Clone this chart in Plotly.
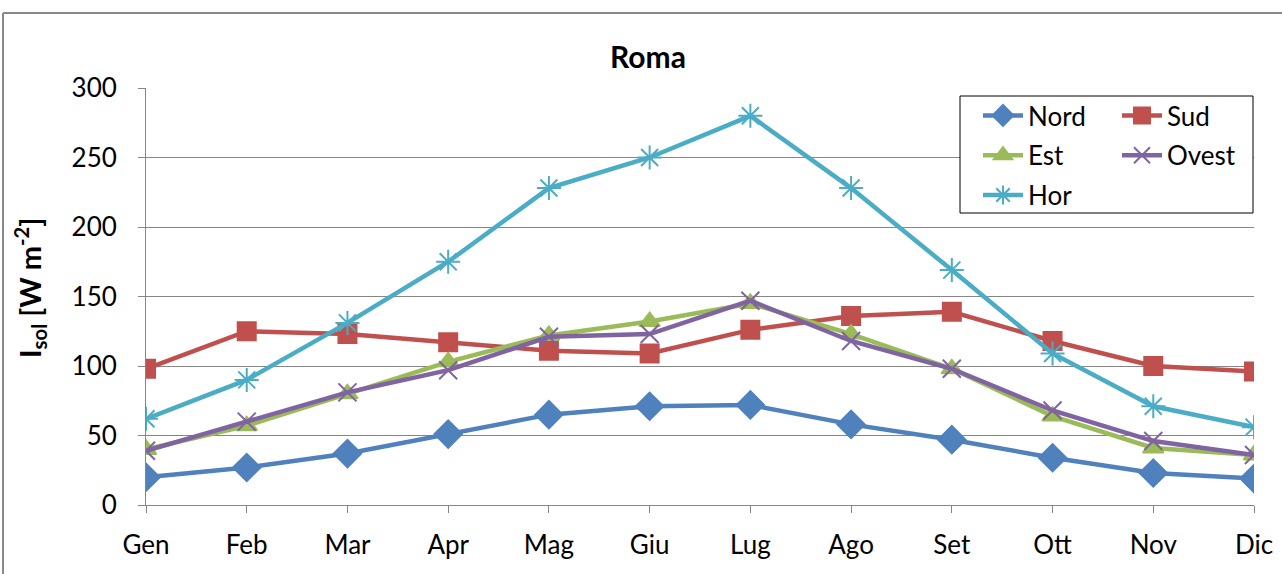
import plotly.graph_objects as go

months = ["Gen", "Feb", "Mar", "Apr", "Mag", "Giu", "Lug", "Ago", "Set", "Ott", "Nov", "Dic"]
nord = [20, 27, 37, 51, 65, 71, 72, 58, 47, 34, 23, 19]
sud = [98, 125, 123, 117, 111, 109, 126, 136, 139, 118, 100, 96]
est = [40, 57, 80, 103, 122, 132, 145, 123, 98, 64, 41, 36]
ovest = [39, 60, 81, 97, 121, 123, 147, 118, 98, 68, 46, 36]
hor = [62, 90, 131, 175, 228, 250, 280, 228, 169, 109, 71, 56]

FONT = "Lato"

series = [
    ("Nord", nord, "#4F81BD", "diamond", 21, "legend"),
    ("Sud", sud, "#C0504D", "square", 18, "legend2"),
    ("Est", est, "#9BBB59", "triangle-up", 18, "legend"),
    ("Ovest", ovest, "#8064A2", "x-thin-open", 18, "legend2"),
    ("Hor", hor, "#4BACC6", "asterisk-open", 20, "legend"),
]

fig = go.Figure()
for name, vals, col, sym, sz, lg in series:
    fig.add_trace(go.Scatter(
        x=months, y=vals, name=name, mode="lines+markers",
        line=dict(color=col, width=4.5),
        marker=dict(symbol=sym, size=sz, color=col, line=dict(color=col, width=2)),
        legend=lg, legendgroup=name,
    ))

# page body margin is removed below, so plot area lands at x 146..1254, y 88..505
L, R, T, B = 146, 1282 - 1254, 88, 574 - 505
W = 1108.0
H = 417.0


def px(x):
    return (x - 146) / W


def py(y):
    return (505 - y) / H


fig.update_layout(
    width=1282, height=574,
    margin=dict(l=L, r=R, t=T, b=B, autoexpand=False),
    paper_bgcolor="white", plot_bgcolor="white",
    font=dict(family=FONT, size=26, color="black"),
    showlegend=True,
    hovermode=False,
    legend=dict(x=px(978), y=py(92), xanchor="left", yanchor="top",
                bgcolor="rgba(0,0,0,0)", font=dict(size=26, family=FONT),
                tracegroupgap=3, itemwidth=40),
    legend2=dict(x=px(1117), y=py(92), xanchor="left", yanchor="top",
                 bgcolor="rgba(0,0,0,0)", font=dict(size=26, family=FONT),
                 tracegroupgap=3, itemwidth=40),
    xaxis=dict(
        type="category", range=[0, 11], automargin=False,
        showline=True, linecolor="#868686", linewidth=1,
        ticks="outside", ticklen=7, tickcolor="#868686",
        ticklabelstandoff=10,
        showgrid=False, tickfont=dict(size=26, family=FONT),
        zeroline=False, fixedrange=True,
    ),
    yaxis=dict(
        range=[0, 300], dtick=50, automargin=False,
        showline=True, linecolor="#868686", linewidth=1,
        ticks="outside", ticklen=7, tickcolor="#868686",
        ticklabelstandoff=16,
        showgrid=True, gridcolor="#868686", gridwidth=1,
        tickfont=dict(size=26, family=FONT),
        zeroline=False, fixedrange=True,
    ),
    annotations=[
        dict(text="<b>Roma</b>", x=px(648), y=py(56),
             xref="paper", yref="paper", showarrow=False,
             font=dict(size=30, family=FONT), xanchor="center", yanchor="middle"),
        dict(text="<b>I<sub>sol</sub> [W m<sup>-2</sup>]</b>",
             x=px(30), y=py(288),
             xref="paper", yref="paper", showarrow=False, textangle=-90,
             font=dict(size=29, family=FONT), xanchor="center", yanchor="middle"),
    ],
    shapes=[
        dict(type="rect", xref="paper", yref="paper",
             x0=px(960), x1=px(1253), y0=py(213), y1=py(96),
             line=dict(color="black", width=1), fillcolor="white", layer="above"),
        dict(type="line", xref="paper", yref="paper",
             x0=px(3), x1=px(1300), y0=py(13), y1=py(13),
             line=dict(color="#888888", width=2)),
        dict(type="line", xref="paper", yref="paper",
             x0=px(3), x1=px(3), y0=py(13), y1=py(590),
             line=dict(color="#888888", width=2)),
    ],
)

fig.write_html("out.html",
               config={"displayModeBar": False, "staticPlot": True},
               post_script="document.body.style.margin='0';document.body.style.padding='0';")
